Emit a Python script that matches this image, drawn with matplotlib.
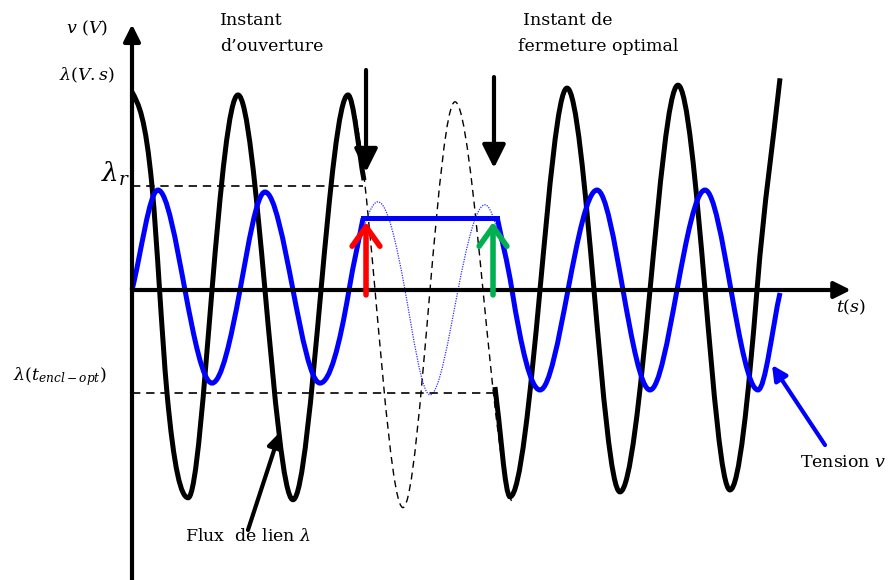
import numpy as np
import matplotlib
matplotlib.use("Agg")
import matplotlib.pyplot as plt
from matplotlib.path import Path
from matplotlib.patches import PathPatch

plt.rcParams['font.family'] = ['DejaVu Serif']
plt.rcParams['mathtext.fontset'] = 'dejavuserif'

# temps en ms (periode 20 ms), tension normalisee, flux en unites arbitraires
# tension v avant l'ouverture
t_v_avant = [0, 4.77, 9.72, 14.68, 19.82, 24.4, 29.54, 34.5, 39.82, 42.39]
v_avant = [0, 1.02, 0, -0.95, 0, 1.0, 0, -0.95, 0, 0.73]
# palier pendant l'ouverture
t_palier = [42.39, 66.97]
v_palier = [0.73, 0.73]
# tension apres la fermeture
t_v_apres = [66.97, 69.72, 74.86, 80.0, 85.32, 90.09, 95.05, 100.0, 105.14, 109.91, 114.86, 118.9]
v_apres = [0.75, 0, -1.02, 0, 1.02, 0, -1.02, 0, 1.02, 0, -1.02, -0.03]
# tension prospective (pointillee)
t_v_prosp = [34.5, 39.82, 45.14, 50.09, 54.68, 59.82, 64.77, 69.91]
v_prosp = [-0.95, 0, 0.90, 0, -1.07, 0, 0.87, 0]

# flux de lien lambda
t_l_avant = [0, 3.67, 6.42, 10.3, 14.68, 19.45, 24.4, 29.54, 34.68, 39.63, 42.57]
l_avant = [2.02, 1.06, -1.05, -2.12, 0, 1.99, 0, -2.14, 0, 1.99, 1.12]
t_l_prosp = [39.63, 44.59, 49.72, 54.68, 59.27, 64.4, 70.09]
l_prosp = [1.99, 0, -2.22, 0, 1.92, 0, -2.17]
t_l_apres = [66.6, 69.36, 74.86, 79.82, 84.77, 89.54, 95.05, 100.18, 105.14, 109.72, 114.68, 118.9]
l_apres = [-0.99, -2.11, 0, 2.06, 0, -2.06, 0, 2.09, 0, -2.04, 0, 2.16]

t_ouverture = 42.39
t_fermeture = 66.6
lambda_r = 1.061
lambda_encl = -1.05


def courbe(ts, ys, k=1.5, m0=None, m1=None):
    # chemin lisse type Hermite (pentes nulles aux extremums) converti en Bezier
    x = np.asarray(ts, float)
    y = np.asarray(ys, float)
    h = np.diff(x)
    s = np.diff(y) / h
    m = np.zeros(len(x))
    for i in range(1, len(x) - 1):
        if s[i - 1] * s[i] > 0:
            m[i] = k * 2 / (1 / s[i - 1] + 1 / s[i])
    m[0] = s[0] if m0 is None else m0
    m[-1] = s[-1] if m1 is None else m1
    verts = [(x[0], y[0])]
    codes = [Path.MOVETO]
    for i in range(len(x) - 1):
        verts += [(x[i] + h[i] / 3, y[i] + m[i] * h[i] / 3),
                  (x[i + 1] - h[i] / 3, y[i + 1] - m[i + 1] * h[i] / 3),
                  (x[i + 1], y[i + 1])]
        codes += [Path.CURVE4] * 3
    return Path(verts, codes)


fig = plt.figure(figsize=(8.89, 5.8), dpi=100)
ax = fig.add_axes([0, 0, 1, 1])
ax.set_xlim(-132 / 5.45, (889 - 132) / 5.45)
ax.set_ylim(-290 / 98, 290 / 98)
ax.axis('off')

# courbes prospectives
ax.add_patch(PathPatch(courbe(t_l_prosp, l_prosp, m0=0, m1=0), fill=False, ec='black', lw=1.0,
                       ls=(0, (5, 3.5))))
ax.add_patch(PathPatch(courbe(t_v_prosp, v_prosp, m0=0), fill=False, ec='#3030ff', lw=0.9, ls=(0, (1, 1))))

# niveaux lambda_r et lambda(t_encl-opt)
ax.plot([0, t_ouverture], [lambda_r, lambda_r], color='black', lw=1.2, ls=(0, (5, 3.5)))
ax.plot([0, t_fermeture], [lambda_encl, lambda_encl], color='black', lw=1.2, ls=(0, (5, 3.5)))

# flux
ax.add_patch(PathPatch(courbe(t_l_avant, l_avant, m0=-0.1), fill=False, ec='black', lw=3.6, capstyle='butt'))
ax.add_patch(PathPatch(courbe(t_l_apres, l_apres), fill=False, ec='black', lw=3.6, capstyle='butt'))

# tension
ax.add_patch(PathPatch(courbe(t_v_avant, v_avant), fill=False, ec='#0000ff', lw=3.6))
ax.plot(t_palier, v_palier, color='#0000ff', lw=3.6)
ax.add_patch(PathPatch(courbe(t_v_apres, v_apres), fill=False, ec='#0000ff', lw=3.6))

# axes
ax.annotate('', xy=(0, 2.71), xytext=(0, -2.96),
            arrowprops=dict(arrowstyle='-|>', lw=3, color='black', mutation_scale=25, shrinkA=0, shrinkB=0))
ax.annotate('', xy=(131.9, 0), xytext=(0, 0),
            arrowprops=dict(arrowstyle='-|>', lw=3, color='black', mutation_scale=25, shrinkA=0, shrinkB=0))

# fleches des instants
fl_noire = dict(arrowstyle='-|>,head_length=0.5,head_width=0.25', lw=3, color='black',
                mutation_scale=28, shrinkA=0, shrinkB=0)
ax.annotate('', xy=(42.94, 1.204), xytext=(42.94, 2.245), arrowprops=fl_noire)
ax.annotate('', xy=(66.42, 1.245), xytext=(66.42, 2.173), arrowprops=fl_noire)
fl_v = '->,head_length=0.7,head_width=0.5'
ax.annotate('', xy=(42.94, 0.694), xytext=(42.94, -0.05),
            arrowprops=dict(arrowstyle=fl_v, lw=4, color='#ff0000', mutation_scale=20, shrinkA=0, shrinkB=0))
ax.annotate('', xy=(66.24, 0.694), xytext=(66.24, -0.05),
            arrowprops=dict(arrowstyle=fl_v, lw=4, color='#00b050', mutation_scale=20, shrinkA=0, shrinkB=0))

# legendes fleches
ax.annotate('', xy=(27.16, -1.449), xytext=(21.28, -2.449),
            arrowprops=dict(arrowstyle='-|>', lw=3, color='black', mutation_scale=22, shrinkA=0, shrinkB=0))
ax.annotate('', xy=(117.43, -0.765), xytext=(127.16, -1.582),
            arrowprops=dict(arrowstyle='-|>', lw=3, color='#0000ff', mutation_scale=22, shrinkA=0, shrinkB=0))

fs = 12.5
ax.text(-8.26, 2.673, r'$v\ (V)$', fontsize=fs, ha='center', va='center')
ax.text(-8.17, 2.194, r'$\lambda(V.s)$', fontsize=fs, ha='center', va='center')
ax.text(-2.94, 1.18, r'$\lambda_r$', fontsize=19, ha='center', va='center')
ax.text(-13.2, -0.888, r'$\lambda(t_{encl-opt})$', fontsize=fs, ha='center', va='center')
ax.text(131.9, -0.173, r'$t(s)$', fontsize=fs, ha='center', va='center')
ax.text(16.15, 2.755, 'Instant', fontsize=fs, ha='left', va='center')
ax.text(16.15, 2.48, 'd\u2019ouverture', fontsize=fs, ha='left', va='center')
ax.text(71.74, 2.755, 'Instant de', fontsize=fs, ha='left', va='center')
ax.text(70.83, 2.48, 'fermeture optimal', fontsize=fs, ha='left', va='center')
ax.text(9.72, -2.52, r'Flux  de lien $\lambda$', fontsize=fs, ha='left', va='center')
ax.text(122.57, -1.765, r'Tension $v$', fontsize=fs, ha='left', va='center')

fig.savefig('out.png', dpi=100)
